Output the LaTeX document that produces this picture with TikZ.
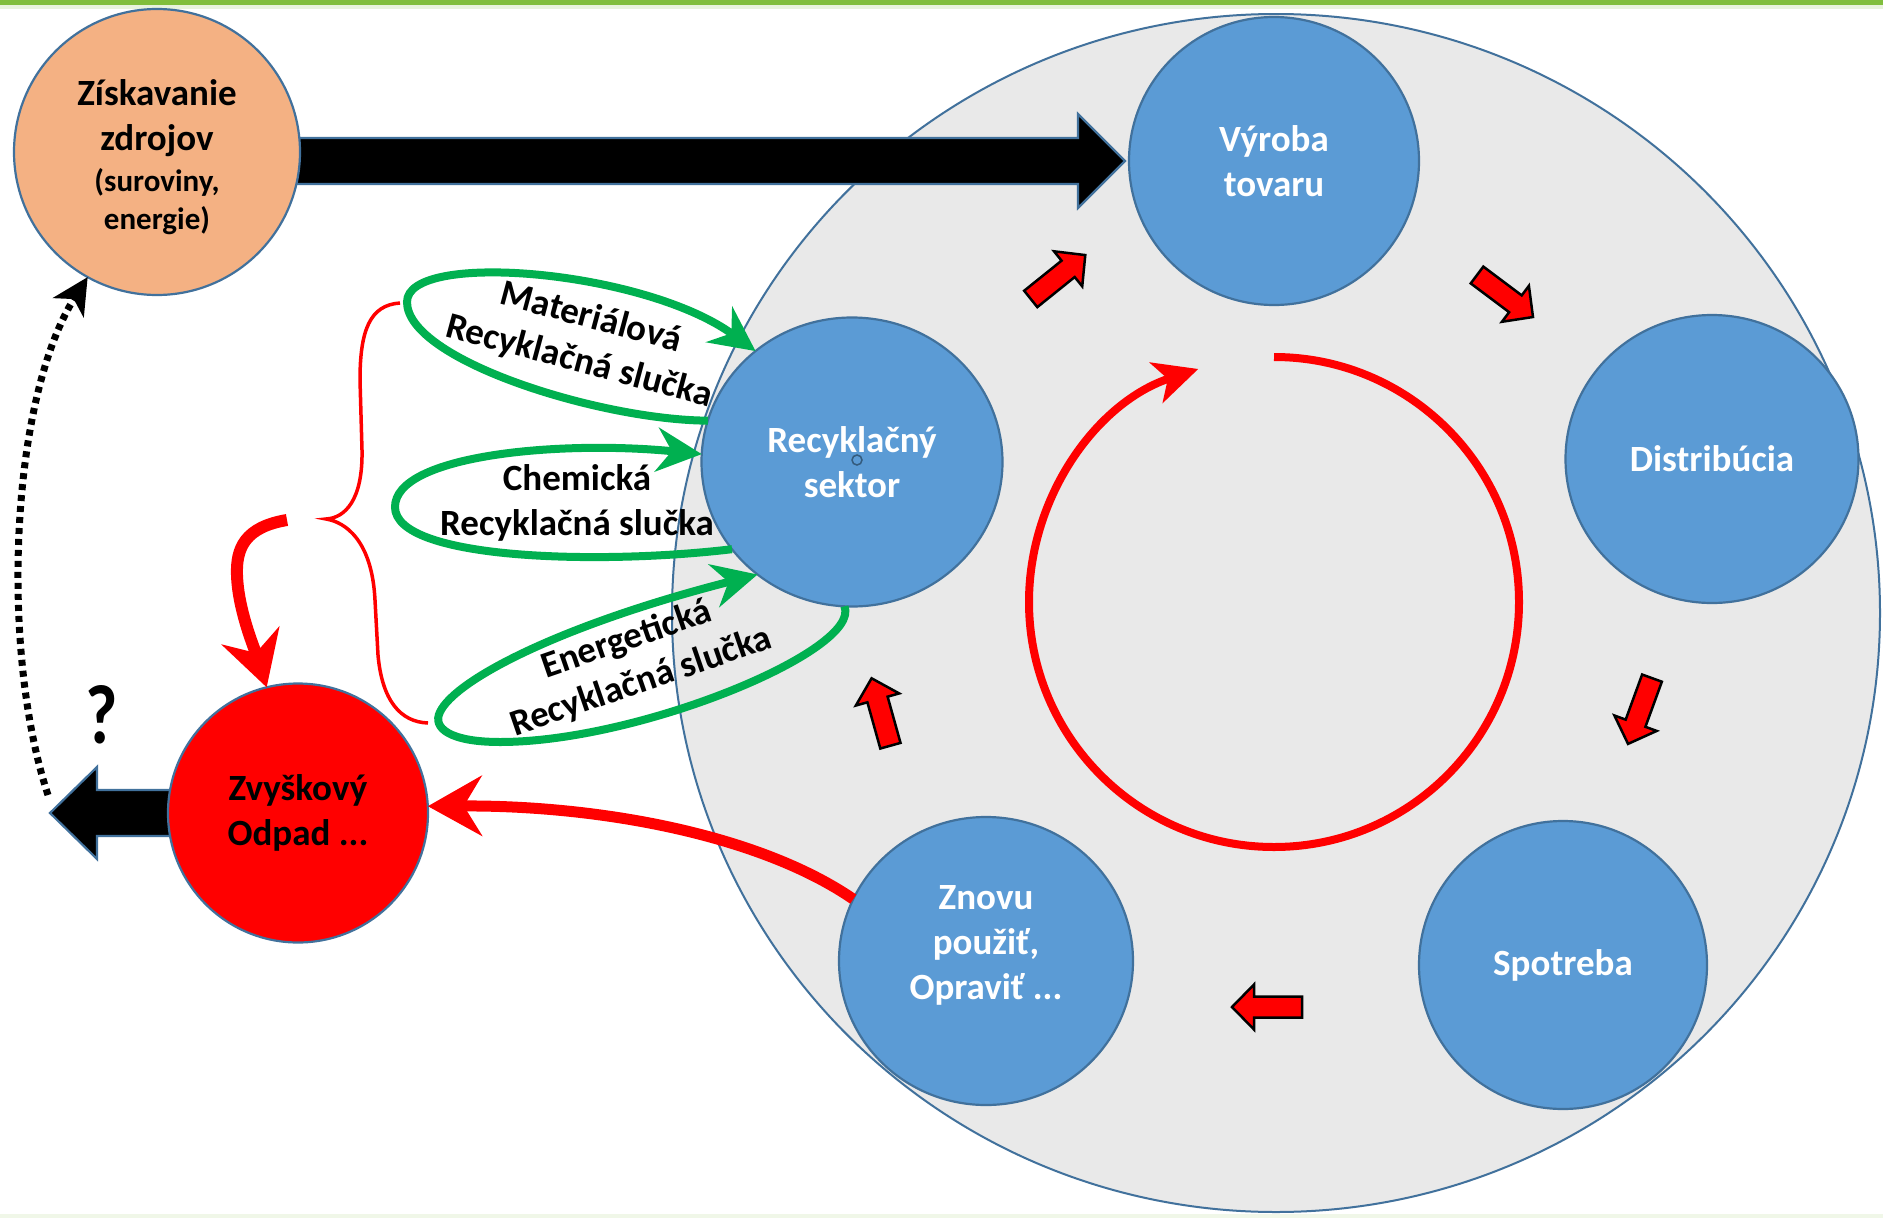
\documentclass[tikz,border=0pt]{standalone}
\usepackage{fontspec}
\setmainfont{Carlito}
\usetikzlibrary{arrows.meta,calc,shapes.geometric,backgrounds}
\definecolor{cblue}{RGB}{91,155,213}
\definecolor{cbline}{RGB}{65,113,156}
\definecolor{corange}{RGB}{244,177,131}
\definecolor{cred}{RGB}{255,0,0}
\definecolor{cgreen}{RGB}{0,176,80}
\definecolor{cgray}{RGB}{233,233,233}
\definecolor{ctopgreen}{RGB}{128,190,60}
\begin{document}
\begin{tikzpicture}[x=1pt,y=-1pt,
  every node/.style={inner sep=0pt,outer sep=0pt},
  bubble/.style={ellipse,draw=cbline,line width=2.2pt,fill=cblue,text=white,align=center,
    font=\bfseries\fontsize{37}{45}\selectfont},
  lbl/.style={align=center,text=black,font=\bfseries\fontsize{37}{45}\selectfont},
  wlbl/.style={align=center,text=white,font=\bfseries\fontsize{37}{45}\selectfont},
  gloop/.style={draw=cgreen,line width=8pt,-{Stealth[length=45pt,width=44pt,inset=15pt]}},
  redarr/.style={draw=cred,line width=11pt,-{Stealth[length=54pt,width=60pt,inset=18pt]}},
  blackarr/.style={fill=black,draw=cbline,line width=2.2pt,line join=miter},
  blockstyle/.style={fill=cred,draw=black,line width=2.5pt,line join=miter},
  blockarr/.pic={\draw[blockstyle] (-35,-10.5) -- (13,-10.5) -- (13,-22.5) -- (35,0) -- (13,22.5) -- (13,10.5) -- (-35,10.5) -- cycle;}
]
\useasboundingbox (0,0) rectangle (1883,1218);

% circles
\node[bubble,fill=corange,minimum width=286pt,minimum height=286pt] (zisk) at (157,152) {};
\node[lbl] (ziskT) at (157,157)
  {Získavanie\\zdrojov\\[-4pt]{\fontsize{31}{38}\selectfont (suroviny,}\\[-7pt]{\fontsize{31}{38}\selectfont energie)}};
\node[bubble,minimum width=290pt,minimum height=288pt] (vyroba) at (1274,161) {Výroba\\tovaru};
\node[bubble,minimum width=293pt,minimum height=288pt] (distr) at (1712,459) {Distribúcia};
\node[bubble,minimum width=288pt,minimum height=288pt] (spotreba) at (1563,965) {Spotreba};
\node[bubble,minimum width=294pt,minimum height=288pt] (znovu) at (986,961) {};
\node[wlbl] (znovuT) at (986,945) {Znovu\\použiť,\\Opraviť ...};
\node[bubble,minimum width=301pt,minimum height=289pt] (recyk) at (852,462) {Recyklačný\\sektor};
\node[bubble,fill=cred,text=black,minimum width=260pt,minimum height=259pt] (zvysok) at (298,813) {Zvyškový\\Odpad ...};
\draw[cbline!80!black,line width=1.5pt] (857,460) circle[radius=5];

\coordinate (outtip) at (50,813);
\coordinate (dotS) at (48,795);
\coordinate (wasteS) at (287,520);

\begin{pgfonlayer}{background}
  \fill[white] (0,0) rectangle (1883,1218);
  \fill[ctopgreen] (0,0) rectangle (1883,5);
  \fill[ctopgreen!18] (0,5) rectangle (1883,9);
  \fill[ctopgreen!12] (0,1214) rectangle (1883,1218);
  \node[ellipse,draw=cbline,line width=2pt,fill=cgray,minimum width=1208pt,minimum height=1198pt] (ring) at (1276,613) {};
  % big black arrow
  \draw[blackarr] let \p1=(zisk.center), \p2=(vyroba.west) in
    (\x1,{\y2+23pt}) -- ({\x2-51pt},{\y2+23pt}) -- ({\x2-51pt},{\y2+47pt}) -- ({\x2-4pt},\y2)
    -- ({\x2-51pt},{\y2-47pt}) -- ({\x2-51pt},{\y2-23pt}) -- (\x1,{\y2-23pt}) -- cycle;
  % left black arrow
  \draw[blackarr] let \p1=(zvysok.center), \p2=(outtip) in
    (\x1,{\y1+23pt}) -- ({\x2+47pt},{\y1+23pt}) -- ({\x2+47pt},{\y1+46pt}) -- (\x2,\y1)
    -- ({\x2+47pt},{\y1-46pt}) -- ({\x2+47pt},{\y1-23pt}) -- (\x1,{\y1-23pt}) -- cycle;
\end{pgfonlayer}

% inner red cycle
\draw[cred,line width=8pt,-{Stealth[length=44pt,width=42pt,inset=12pt]}]
  (1274,357) arc[start angle=-90,end angle=252,radius=245];

% small block arrows
\pic[rotate=38.8] at (1058,277) {blockarr};
\pic[rotate=-36.9] at (1505,296) {blockarr};
\pic[rotate=-110] at (1640,711) {blockarr};
\pic[rotate=180] at (1267,1007) {blockarr};
\pic[rotate=105.6] at (881,712) {blockarr};

% green loops
\draw[gloop] (recyk.164) .. controls (600,420) and (407,360) .. (407,302)
  .. controls (407,250) and (645,270) .. (recyk.131);
\draw[gloop] (recyk.216) .. controls (600,565) and (395,560) .. (395,507)
  .. controls (395,455) and (560,440) .. (recyk.177);
\draw[gloop] (recyk.267) .. controls (862,650) and (640,742) .. (500,742)
  .. controls (450,742) and (432,728) .. (440,712)
  .. controls (455,680) and (560,625) .. (recyk.230);

% labels
\node[lbl,rotate=-15] (matT) at (585,340) {Materiálová\\Recyklačná slučka};
\node[lbl] (chemT) at (577,503) {Chemická\\Recyklačná slučka};
\node[lbl,rotate=19] (enT) at (634,661) {Energetická\\Recyklačná slučka};
\node[font=\bfseries\fontsize{70}{70}\selectfont,yscale=1.2] (q) at (102,715) {?};

% red brace
\draw[cred,line width=3.5pt] (400,303) .. controls (370,305) and (360,330) .. (360,380) -- (362,450)
  .. controls (363,500) and (345,518) .. (326,519)
  .. controls (345,522) and (372,540) .. (375,600) -- (378,655)
  .. controls (382,700) and (400,722) .. (428,723);

% red arrows to waste
\draw[redarr,line width=12pt] (wasteS) .. controls (245,527) and (236,548) .. (237,575)
  .. controls (238,610) and (255,650) .. (zvysok.104);
\draw[redarr] (znovu.155) .. controls (760,835) and (600,805) .. (zvysok.3);

% dotted return arrow
\draw[black,line width=7pt,dash pattern=on 6pt off 5pt,-{Stealth[length=36pt,width=36pt,inset=10pt]}]
  (dotS) .. controls (0,650) and (10,400) .. (zisk.241);
\end{tikzpicture}
\end{document}
